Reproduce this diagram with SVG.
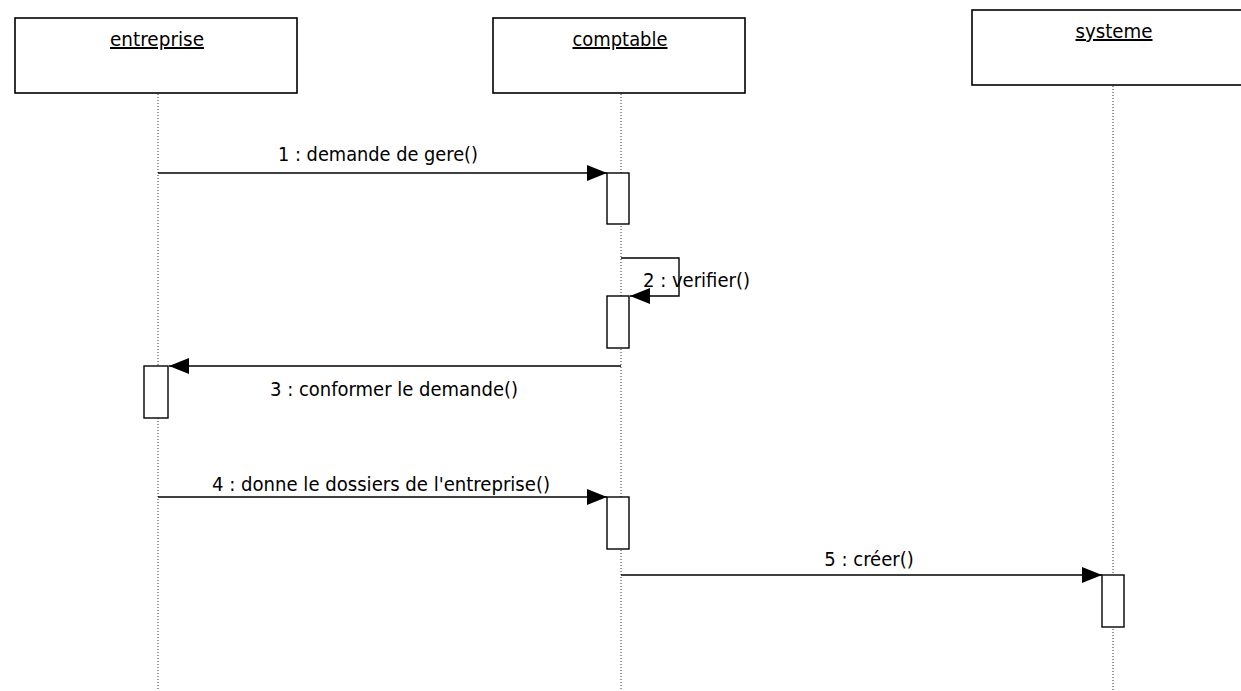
<svg xmlns="http://www.w3.org/2000/svg" width="1241" height="691" viewBox="0 0 1241 691">
  <style>
    .obj { fill: #fff; stroke: #000; stroke-width: 1.6; }
    .name { font-family: "DejaVu Sans Condensed", "DejaVu Sans", Verdana, sans-serif; font-size: 20px; text-anchor: middle; text-decoration: underline; fill: #000; }
    .life { stroke: #333; stroke-width: 1; stroke-dasharray: 1 2; fill: none; }
    .act { fill: #fff; stroke: #000; stroke-width: 1.4; }
    .msg { stroke: #000; stroke-width: 1.4; fill: none; }
    .lbl { font-family: "DejaVu Sans Condensed", "DejaVu Sans", Verdana, sans-serif; font-size: 20px; fill: #000; }
  </style>
  <defs>
    <marker id="arrow" viewBox="0 0 20 16" refX="20" refY="8" markerWidth="20" markerHeight="16" markerUnits="userSpaceOnUse" orient="auto">
      <path d="M0,0 L20,8 L0,16 Z" fill="#000"/>
    </marker>
  </defs>

  <rect width="1241" height="691" fill="#fff"/>

  <!-- lifelines -->
  <g id="lifelines">
    <line class="life" x1="158" y1="94" x2="158" y2="690"/>
    <line class="life" x1="621" y1="94" x2="621" y2="690"/>
    <line class="life" x1="1113" y1="86" x2="1113" y2="690"/>
  </g>

  <!-- objects -->
  <g id="entreprise">
    <rect class="obj" x="15" y="18" width="282" height="75"/>
    <text class="name" x="157" y="46" textLength="94" lengthAdjust="spacingAndGlyphs">entreprise</text>
  </g>
  <g id="comptable">
    <rect class="obj" x="493" y="18" width="252" height="75"/>
    <text class="name" x="620" y="46" textLength="95" lengthAdjust="spacingAndGlyphs">comptable</text>
  </g>
  <g id="systeme">
    <rect class="obj" x="972" y="10" width="282" height="75"/>
    <text class="name" x="1114" y="38" textLength="77" lengthAdjust="spacingAndGlyphs">systeme</text>
  </g>

  <!-- activation bars -->
  <g id="activations">
    <rect class="act" x="607" y="173" width="22" height="51"/>
    <rect class="act" x="607" y="296" width="22" height="52"/>
    <rect class="act" x="144" y="366" width="24" height="52"/>
    <rect class="act" x="607" y="497" width="22" height="52"/>
    <rect class="act" x="1102" y="575" width="22" height="52"/>
  </g>

  <!-- messages -->
  <g id="connectors">
    <line class="msg" x1="158" y1="173" x2="607" y2="173" marker-end="url(#arrow)"/>
    <polyline class="msg" points="621,258 679,258 679,296 630,296" marker-end="url(#arrow)"/>
    <line class="msg" x1="621" y1="366" x2="169" y2="366" marker-end="url(#arrow)"/>
    <line class="msg" x1="158" y1="497" x2="607" y2="497" marker-end="url(#arrow)"/>
    <line class="msg" x1="621" y1="575" x2="1102" y2="575" marker-end="url(#arrow)"/>
  </g>

  <!-- message labels -->
  <g id="labels">
    <text class="lbl" x="278" y="161" textLength="200" lengthAdjust="spacingAndGlyphs">1 : demande de gere()</text>
    <text class="lbl" x="643" y="287" textLength="107" lengthAdjust="spacingAndGlyphs">2 : verifier()</text>
    <text class="lbl" x="270" y="396" textLength="248" lengthAdjust="spacingAndGlyphs">3 : conformer le demande()</text>
    <text class="lbl" x="212" y="491" textLength="338" lengthAdjust="spacingAndGlyphs">4 : donne le dossiers de l'entreprise()</text>
    <text class="lbl" x="869" y="566" text-anchor="middle">5 : créer()</text>
  </g>
</svg>
